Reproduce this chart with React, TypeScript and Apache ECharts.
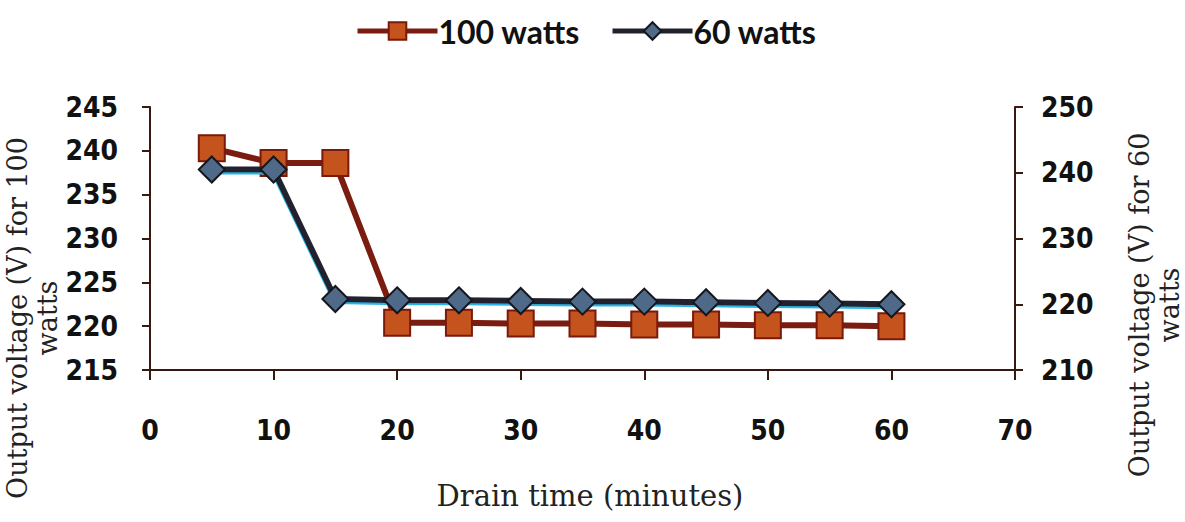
import React, { useEffect, useRef } from "react";
import * as echarts from "echarts";

const drainTime = [5, 10, 15, 20, 25, 30, 35, 40, 45, 50, 55, 60];
const watts100 = [240.3, 238.6, 238.6, 220.4, 220.4, 220.3, 220.3, 220.2, 220.2, 220.1, 220.1, 220.0];
const watts60 = [240.5, 240.5, 220.8, 220.6, 220.6, 220.5, 220.4, 220.4, 220.3, 220.2, 220.1, 220.0];
const seriesNames = ["100 watts", "60 watts"];
const leftTitle = "Output voltage (V) for 100\nwatts";
const rightTitle = "Output voltage (V) for 60\nwatts";
const xTitle = "Drain time (minutes)";

const tickFont = "'DejaVu Sans Condensed', 'Liberation Sans Narrow', sans-serif";
const serifFont = "'DejaVu Serif', 'Liberation Serif', serif";

export default function App() {
  const ref = useRef<HTMLDivElement>(null);
  useEffect(() => {
    if (!ref.current) return;
    const chart = echarts.init(ref.current, undefined, { renderer: "svg" });
    const axisLine = { show: true, lineStyle: { color: "#3a1812", width: 2 } };
    const axisTick = { show: true, length: 8, lineStyle: { color: "#3a1812", width: 2 } };
    const labelStyle = { color: "#111", fontFamily: tickFont, fontWeight: "bold" as const, fontSize: 28 };
    chart.setOption({
      animation: false,
      backgroundColor: "#ffffff",
      legend: {
        top: 10,
        left: 350,
        itemWidth: 80,
        itemHeight: 22,
        itemGap: 30,
        lineStyle: { width: 5 },
        textStyle: { color: "#111", fontFamily: "Lato, sans-serif", fontWeight: "bold", fontSize: 32, padding: [0, 0, 0, -4] },
        data: seriesNames,
      },
      grid: { left: 150, right: 170, top: 107, bottom: 152, containLabel: false },
      xAxis: {
        type: "value",
        min: 0,
        max: 70,
        interval: 10,
        axisLine,
        axisTick: { ...axisTick, length: 10 },
        splitLine: { show: false },
        axisLabel: { ...labelStyle, margin: 46 },
      },
      yAxis: [
        {
          type: "value",
          min: 215,
          max: 245,
          interval: 5,
          position: "left",
          axisLine,
          axisTick,
          splitLine: { show: false },
          axisLabel: { ...labelStyle, margin: 32 },
        },
        {
          type: "value",
          min: 210,
          max: 250,
          interval: 10,
          position: "right",
          axisLine,
          axisTick,
          splitLine: { show: false },
          axisLabel: { ...labelStyle, margin: 26 },
        },
      ],
      graphic: [
        {
          type: "text",
          x: 32,
          y: 318,
          rotation: Math.PI / 2,
          style: {
            text: leftTitle,
            align: "center",
            verticalAlign: "middle",
            font: `27px ${serifFont}`,
            fill: "#222",
            lineHeight: 30,
          },
        },
        {
          type: "text",
          x: 1154,
          y: 305,
          rotation: Math.PI / 2,
          style: {
            text: rightTitle,
            align: "center",
            verticalAlign: "middle",
            font: `27px ${serifFont}`,
            fill: "#222",
            lineHeight: 30,
          },
        },
        {
          type: "text",
          x: 590,
          y: 496,
          style: {
            text: xTitle,
            align: "center",
            verticalAlign: "middle",
            font: `29px ${serifFont}`,
            fill: "#222",
          },
        },
      ],
      series: [
        {
          name: seriesNames[0],
          type: "line",
          yAxisIndex: 0,
          data: drainTime.map((t, i) => [t, watts100[i]]),
          symbol: "rect",
          symbolSize: 26,
          lineStyle: { color: "#7b1c10", width: 6 },
          itemStyle: { color: "#c4531d", borderColor: "#7a1a0a", borderWidth: 2 },
          z: 2,
        },
        {
          name: seriesNames[1],
          type: "line",
          yAxisIndex: 1,
          data: drainTime.map((t, i) => [t, watts60[i]]),
          symbol: "diamond",
          symbolSize: 26,
          lineStyle: { color: "#20232e", width: 6, shadowColor: "#2ab4e6", shadowOffsetY: 2, shadowBlur: 0 },
          itemStyle: { color: "#4f6a88", borderColor: "#15161e", borderWidth: 2 },
          z: 3,
        },
      ],
    });
    return () => chart.dispose();
  }, []);
  return (
    <div
      ref={ref}
      style={{ position: "fixed", left: 0, top: 0, width: 1185, height: 522, background: "#fff" }}
    />
  );
}
